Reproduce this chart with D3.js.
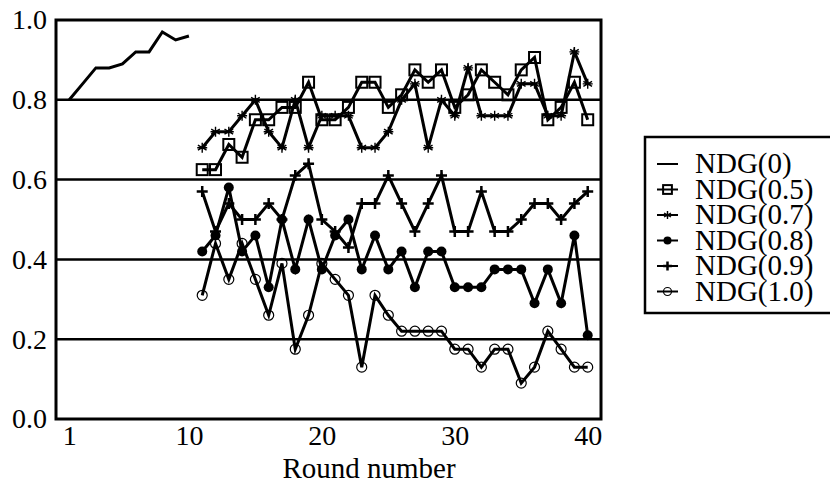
<!DOCTYPE html>
<html>
<head>
<meta charset="utf-8">
<script src="https://d3js.org/d3.v7.min.js"></script>
<style>
  html, body { margin: 0; padding: 0; background: #fff; }
  svg { display: block; }
</style>
</head>
<body>
<svg id="chart" width="830" height="486"></svg>
<script>
// ---- data ----
const roundsA = [1, 2, 3, 4, 5, 6, 7, 8, 9, 10];
const roundsB = [11, 12, 13, 14, 15, 16, 17, 18, 19, 20, 21, 22, 23, 24, 25,
                 26, 27, 28, 29, 30, 31, 32, 33, 34, 35, 36, 37, 38, 39, 40];
const ndg00 = [0.80, 0.84, 0.88, 0.88, 0.89, 0.92, 0.92, 0.97, 0.95, 0.96];
const ndg05 = [0.625, 0.625, 0.688, 0.656, 0.75, 0.75, 0.781, 0.781, 0.844, 0.75,
               0.75, 0.781, 0.844, 0.844, 0.781, 0.8125, 0.875, 0.844, 0.875, 0.781,
               0.8125, 0.875, 0.844, 0.8125, 0.875, 0.906, 0.75, 0.781, 0.844, 0.75];
const ndg07 = [0.68, 0.72, 0.72, 0.76, 0.80, 0.72, 0.68, 0.80, 0.68, 0.76,
               0.76, 0.76, 0.68, 0.68, 0.72, 0.80, 0.84, 0.68, 0.80, 0.76,
               0.88, 0.76, 0.76, 0.76, 0.84, 0.84, 0.76, 0.76, 0.92, 0.84];
const ndg08 = [0.42, 0.46, 0.58, 0.42, 0.46, 0.33, 0.50, 0.375, 0.50, 0.375,
               0.46, 0.50, 0.375, 0.46, 0.375, 0.42, 0.33, 0.42, 0.42, 0.33,
               0.33, 0.33, 0.375, 0.375, 0.375, 0.29, 0.375, 0.29, 0.46, 0.21];
const ndg09 = [0.57, 0.47, 0.54, 0.50, 0.50, 0.54, 0.50, 0.61, 0.64, 0.50,
               0.47, 0.43, 0.54, 0.54, 0.61, 0.54, 0.47, 0.54, 0.61, 0.47,
               0.47, 0.57, 0.47, 0.47, 0.50, 0.54, 0.54, 0.50, 0.54, 0.57];
const ndg10 = [0.31, 0.44, 0.35, 0.44, 0.35, 0.26, 0.39, 0.175, 0.26, 0.39,
               0.35, 0.31, 0.13, 0.31, 0.26, 0.22, 0.22, 0.22, 0.22, 0.175,
               0.175, 0.13, 0.175, 0.175, 0.09, 0.13, 0.22, 0.175, 0.13, 0.13];
const seriesNames = ["NDG(0)", "NDG(0.5)", "NDG(0.7)", "NDG(0.8)", "NDG(0.9)", "NDG(1.0)"];
const seriesMarkers = ["none", "square", "asterisk", "dot", "plus", "circle"];
const xTicks = [1, 10, 20, 30, 40];
const yTicks = [0.0, 0.2, 0.4, 0.6, 0.8, 1.0];
const gridValues = [0.2, 0.4, 0.6, 0.8];
const xLabel = "Round number";

// ---- layout ----
const FONT = '"Liberation Serif"';
const L = 56, R = 601, T = 20, B = 419;
const svg = d3.select("#chart");
const x = d3.scaleLinear().domain([0, 41]).range([L, R]);
const y = d3.scaleLinear().domain([0, 1]).range([B, T]);

// gridlines
svg.append("g").selectAll("line").data(gridValues).join("line")
  .attr("x1", L).attr("x2", R)
  .attr("y1", d => y(d)).attr("y2", d => y(d))
  .attr("stroke", "#000").attr("stroke-width", 2.5);

// axes
const xAxis = svg.append("g").attr("transform", `translate(0,${B})`)
  .call(d3.axisBottom(x).tickValues(xTicks).tickSize(0).tickPadding(6).tickFormat(d3.format("d")));
xAxis.select(".domain").remove();
xAxis.selectAll("text").style("font-family", FONT).style("font-size", "28px").style("fill", "#000");

const yAxis = svg.append("g").attr("transform", `translate(${L},0)`)
  .call(d3.axisLeft(y).tickValues(yTicks).tickSize(0).tickPadding(9).tickFormat(d3.format(".1f")));
yAxis.select(".domain").remove();
yAxis.selectAll("text").style("font-family", FONT).style("font-size", "28px").style("fill", "#000");

svg.append("text").attr("x", 369).attr("y", 478).attr("text-anchor", "middle")
  .style("font-family", FONT).style("font-size", "29px").text(xLabel);

// ---- series ----
const series = [
  { rounds: roundsA, values: ndg00 },
  { rounds: roundsB, values: ndg05 },
  { rounds: roundsB, values: ndg07 },
  { rounds: roundsB, values: ndg08 },
  { rounds: roundsB, values: ndg09 },
  { rounds: roundsB, values: ndg10 }
].map((s, i) => ({ ...s, name: seriesNames[i], marker: seriesMarkers[i],
                   pts: s.rounds.map((r, j) => [r, s.values[j]]) }));

const line = d3.line().x(d => x(d[0])).y(d => y(d[1]));

function drawMarker(g, type, cx, cy, scale) {
  const s = scale;
  if (type === "square") {
    g.append("rect").attr("x", cx - 5.5 * s).attr("y", cy - 5.5 * s)
      .attr("width", 11 * s).attr("height", 11 * s)
      .attr("fill", "none").attr("stroke", "#000").attr("stroke-width", 2);
  } else if (type === "circle") {
    g.append("circle").attr("cx", cx).attr("cy", cy).attr("r", 5 * s)
      .attr("fill", "none").attr("stroke", "#000").attr("stroke-width", 1.2);
  } else if (type === "dot") {
    g.append("circle").attr("cx", cx).attr("cy", cy).attr("r", 5 * s).attr("fill", "#000");
  } else if (type === "plus") {
    const a = 5.5 * s;
    g.append("path").attr("d", `M${cx - a},${cy}H${cx + a}M${cx},${cy - a}V${cy + a}`)
      .attr("stroke", "#000").attr("stroke-width", 2.5).attr("fill", "none");
  } else if (type === "asterisk") {
    const a = 5 * s;
    let d = `M${cx},${cy - a}V${cy + a}`;
    [30, 150].forEach(deg => {
      const r = deg * Math.PI / 180;
      d += `M${cx - a * Math.cos(r)},${cy - a * Math.sin(r)}L${cx + a * Math.cos(r)},${cy + a * Math.sin(r)}`;
    });
    d += `M${cx - a},${cy}H${cx + a}`;
    g.append("path").attr("d", d).attr("stroke", "#000").attr("stroke-width", 1.4).attr("fill", "none");
  }
}

series.forEach(s => {
  const g = svg.append("g");
  g.append("path").datum(s.pts).attr("d", line)
    .attr("fill", "none").attr("stroke", "#000").attr("stroke-width", 3)
    .attr("stroke-linejoin", "miter");
  s.pts.forEach(p => drawMarker(g, s.marker, x(p[0]), y(p[1]), 1));
});

// frame
svg.append("rect").attr("x", L).attr("y", T).attr("width", R - L).attr("height", B - T)
  .attr("fill", "none").attr("stroke", "#000").attr("stroke-width", 3);

// ---- legend ----
const lg = svg.append("g");
lg.append("rect").attr("x", 645).attr("y", 137).attr("width", 200).attr("height", 176)
  .attr("fill", "none").attr("stroke", "#000").attr("stroke-width", 2.5);
series.forEach((s, i) => {
  const cy = 164 + 25.5 * i;
  lg.append("line").attr("x1", 657).attr("x2", 678).attr("y1", cy).attr("y2", cy)
    .attr("stroke", "#000").attr("stroke-width", 2);
  drawMarker(lg, s.marker, 667.5, cy, 0.8);
  lg.append("text").attr("x", 695).attr("y", cy + 9.3)
    .style("font-family", FONT).style("font-size", "29px").text(s.name);
});
</script>
</body>
</html>
